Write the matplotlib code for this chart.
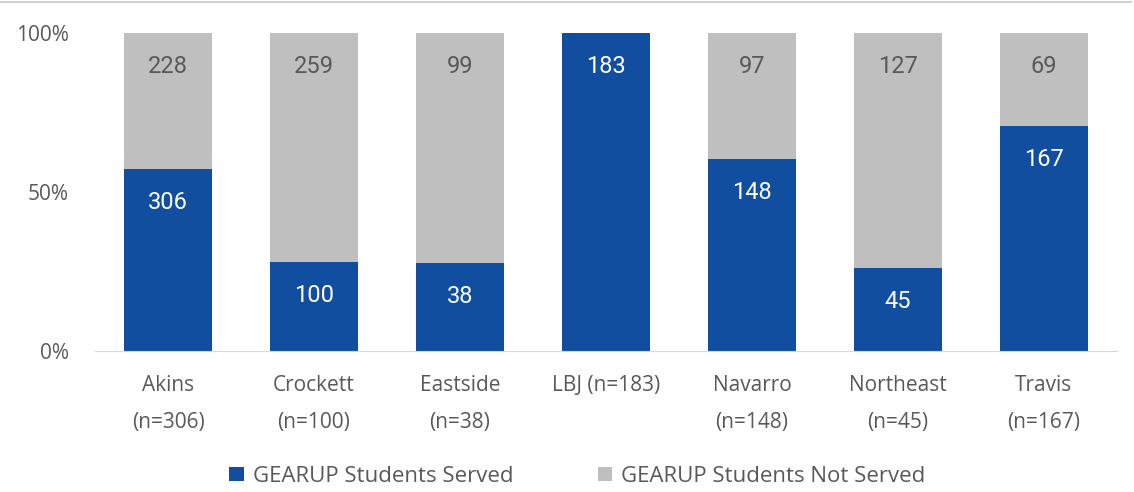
import matplotlib
matplotlib.use("Agg")
import matplotlib.pyplot as plt
import numpy as np

schools = ["Akins\n(n=306)", "Crockett\n(n=100)", "Eastside\n(n=38)", "LBJ (n=183)",
           "Navarro\n(n=148)", "Northeast\n(n=45)", "Travis\n(n=167)"]
served = [306, 100, 38, 183, 148, 45, 167]
not_served = [228, 259, 99, 0, 97, 127, 69]

BLUE = "#114EA0"
GRAY = "#BFBFBF"
TXT = "#595959"

served_a = np.array(served, float)
not_a = np.array(not_served, float)
tot = served_a + not_a
p_served = served_a / tot * 100
p_not = not_a / tot * 100

fig = plt.figure(figsize=(11.34, 4.92), dpi=100)
ax = fig.add_axes([0.0838, 0.2866, 0.9012, 0.6464])
x = np.arange(len(schools))
ax.bar(x, p_served, 0.6, color=BLUE, label="GEARUP Students Served")
ax.bar(x, p_not, 0.6, bottom=p_served, color=GRAY, label="GEARUP Students Not Served")

off = 10.5
for i in range(len(schools)):
    ax.text(x[i], p_served[i] - off, str(served[i]), ha="center", va="center",
            color="white", fontsize=17, family="Roboto")
    if not_served[i] > 0:
        ax.text(x[i], 100 - off, str(not_served[i]), ha="center", va="center",
                color=TXT, fontsize=17, family="Roboto")

ax.set_xlim(-0.5, len(schools) - 0.5)
ax.set_ylim(0, 100)
ax.set_yticks([0, 50, 100])
ax.set_yticklabels(["0%", "50%", "100%"], family="Open Sans", fontsize=15, color=TXT)
ax.set_xticks(x)
ax.set_xticklabels(schools, family="Open Sans", fontsize=15, color=TXT, linespacing=2.0)
ax.tick_params(length=0, axis="both")
ax.tick_params(axis="x", pad=17)
ax.tick_params(axis="y", pad=19)
for s in ["top", "right", "left"]:
    ax.spines[s].set_visible(False)
ax.spines["bottom"].set_color("#D9D9D9")

leg = fig.legend(loc="center", bbox_to_anchor=(0.509, 0.032), ncol=2, frameon=False,
                 prop={"family": "Open Sans", "size": 16}, handlelength=0.65,
                 handleheight=0.65, handletextpad=0.4, columnspacing=3.8)
for t in leg.get_texts():
    t.set_color(TXT)

fig.add_artist(plt.Line2D([0, 0.997], [0.996, 0.996], transform=fig.transFigure,
                          color="#C8C8C8", lw=1.2))

fig.savefig("out.png", dpi=100)
